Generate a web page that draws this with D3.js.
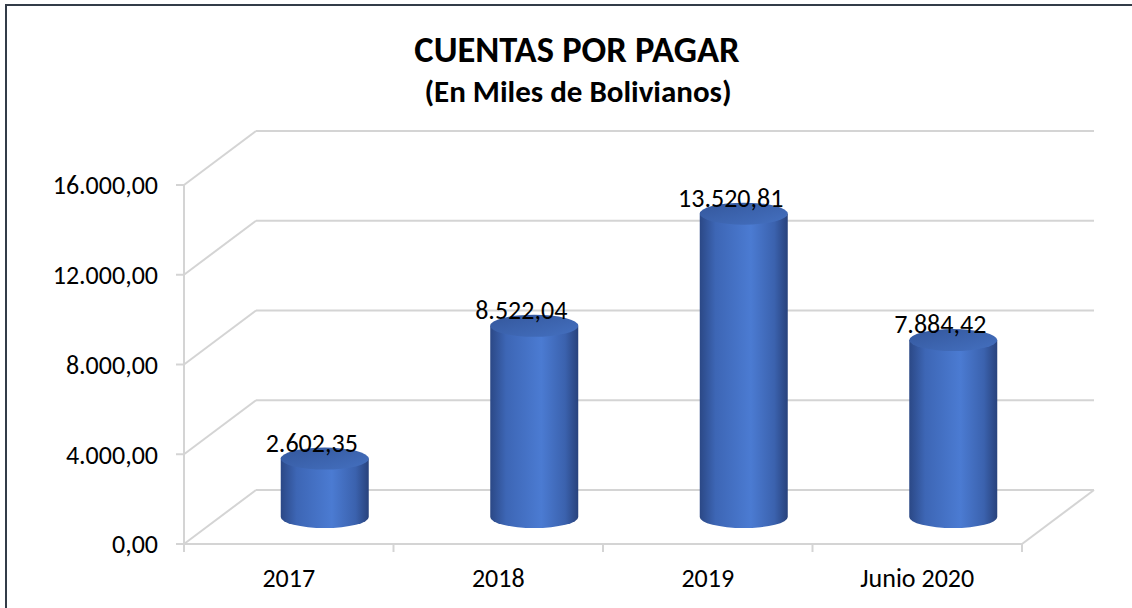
<!DOCTYPE html>
<html lang="es">
<head>
<meta charset="UTF-8">
<title>Cuentas por pagar</title>
<script src="https://cdn.jsdelivr.net/npm/d3@7"></script>
<style>
    body { margin: 0; background: #fff; }
    svg { display: block; }
    text { font-family: Calibri, Carlito, Lato, sans-serif; fill: #000; }
</style>
</head>
<body>
<svg width="1132" height="608"></svg>
<script>
    // datos
    const categorias = ['2017', '2018', '2019', 'Junio 2020']
    const valores = [2602.35, 8522.04, 13520.81, 7884.42]
    const etiquetas = ['2.602,35', '8.522,04', '13.520,81', '7.884,42']
    const ticksY = [0, 4000, 8000, 12000, 16000]
    const ticksYTexto = ['0,00', '4.000,00', '8.000,00', '12.000,00', '16.000,00']

    const svg = d3.select('svg')

    // marco
    svg.append('rect')
        .attr('x', 6).attr('y', 5)
        .attr('width', 1200).attr('height', 700)
        .attr('fill', 'none')
        .attr('stroke', '#333c48')
        .attr('stroke-width', 2)

    // profundidad 3D
    const dx = 72, dy = -54

    const x = d3.scaleBand().domain(categorias).range([184, 1022]).padding(0)
    const y = d3.scaleLinear().domain([0, 16000]).range([544, 185])

    const gris = '#d4d4d4'
    const g = svg.append('g')

    // lineas de la pared izquierda y pared del fondo
    ticksY.forEach(function (v) {
        g.append('line')
            .attr('x1', 184).attr('y1', y(v))
            .attr('x2', 184 + dx).attr('y2', y(v) + dy)
            .attr('stroke', gris).attr('stroke-width', 2)
        g.append('line')
            .attr('x1', 184 + dx).attr('y1', y(v) + dy)
            .attr('x2', 1022 + dx).attr('y2', y(v) + dy)
            .attr('stroke', gris).attr('stroke-width', 2)
        // marca del eje
        g.append('line')
            .attr('x1', 176).attr('y1', y(v))
            .attr('x2', 184).attr('y2', y(v))
            .attr('stroke', gris).attr('stroke-width', 2)
    })

    // piso: borde derecho y eje frontal
    g.append('line')
        .attr('x1', 1022).attr('y1', y(0))
        .attr('x2', 1022 + dx).attr('y2', y(0) + dy)
        .attr('stroke', gris).attr('stroke-width', 2)
    g.append('line')
        .attr('x1', 184).attr('y1', y(0))
        .attr('x2', 1022).attr('y2', y(0))
        .attr('stroke', gris).attr('stroke-width', 2)
    g.append('line')
        .attr('x1', 184).attr('y1', y(0))
        .attr('x2', 184).attr('y2', y(16000))
        .attr('stroke', gris).attr('stroke-width', 2)

    // marcas de categorias
    const bordes = categorias.map(c => x(c)).concat([1022])
    bordes.forEach(function (bx) {
        g.append('line')
            .attr('x1', bx).attr('y1', y(0))
            .attr('x2', bx).attr('y2', y(0) + 8)
            .attr('stroke', gris).attr('stroke-width', 2)
    })

    // etiquetas eje Y
    g.selectAll('.ytick')
        .data(ticksY)
        .enter()
        .append('text')
        .attr('x', 158)
        .attr('y', d => y(d))
        .attr('dy', '0.36em')
        .attr('text-anchor', 'end')
        .style('font-size', '26px')
        .text((d, i) => ticksYTexto[i])

    // etiquetas eje X
    g.selectAll('.xtick')
        .data(categorias)
        .enter()
        .append('text')
        .attr('x', d => x(d) + x.bandwidth() / 2)
        .attr('y', 587)
        .attr('text-anchor', 'middle')
        .style('font-size', '26px')
        .text(d => d)

    // gradientes de los cilindros
    const defs = svg.append('defs')
    const grad = defs.append('linearGradient').attr('id', 'cuerpo')
        .attr('x1', '0%').attr('x2', '100%').attr('y1', '0%').attr('y2', '0%')
    grad.append('stop').attr('offset', '0%').attr('stop-color', '#2b4886')
    grad.append('stop').attr('offset', '18%').attr('stop-color', '#3d66b5')
    grad.append('stop').attr('offset', '58%').attr('stop-color', '#4b7bd2')
    grad.append('stop').attr('offset', '85%').attr('stop-color', '#3b62ae')
    grad.append('stop').attr('offset', '100%').attr('stop-color', '#28427c')

    const gradTapa = defs.append('linearGradient').attr('id', 'tapa')
        .attr('x1', '0%').attr('x2', '100%').attr('y1', '0%').attr('y2', '100%')
    gradTapa.append('stop').attr('offset', '0%').attr('stop-color', '#34579c')
    gradTapa.append('stop').attr('offset', '100%').attr('stop-color', '#4470c0')

    const rx = 44, ry = 11
    const datos = categorias.map((c, i) => ({ cat: c, valor: valores[i], etiqueta: etiquetas[i] }))

    const cil = g.selectAll('.cil')
        .data(datos)
        .enter()
        .append('g')

    function cx(d) { return x(d.cat) + x.bandwidth() / 2 + dx / 2 }
    function base(d) { return y(0) + dy / 2 }
    function tope(d) { return y(d.valor) + dy / 2 }

    cil.append('path')
        .attr('d', function (d) {
            const l = cx(d) - rx, r = cx(d) + rx
            return 'M' + l + ',' + tope(d) + ' L' + l + ',' + base(d) +
                ' A' + rx + ',' + ry + ' 0 0 0 ' + r + ',' + base(d) +
                ' L' + r + ',' + tope(d) + ' Z'
        })
        .attr('fill', 'url(#cuerpo)')

    cil.append('ellipse')
        .attr('cx', cx)
        .attr('cy', tope)
        .attr('rx', rx)
        .attr('ry', ry)
        .attr('fill', 'url(#tapa)')

    // etiquetas de datos
    cil.append('text')
        .attr('x', d => cx(d) - 13)
        .attr('y', d => tope(d) - 7)
        .attr('text-anchor', 'middle')
        .style('font-size', '26px')
        .text(d => d.etiqueta)

    // titulo
    svg.append('text')
        .attr('x', 577).attr('y', 62)
        .attr('text-anchor', 'middle')
        .style('font-size', '36.5px')
        .style('font-weight', 'bold')
        .text('CUENTAS POR PAGAR')
    svg.append('text')
        .attr('x', 578).attr('y', 102)
        .attr('text-anchor', 'middle')
        .style('font-size', '31px')
        .style('font-weight', 'bold')
        .text('(En Miles de Bolivianos)')
</script>
</body>
</html>
